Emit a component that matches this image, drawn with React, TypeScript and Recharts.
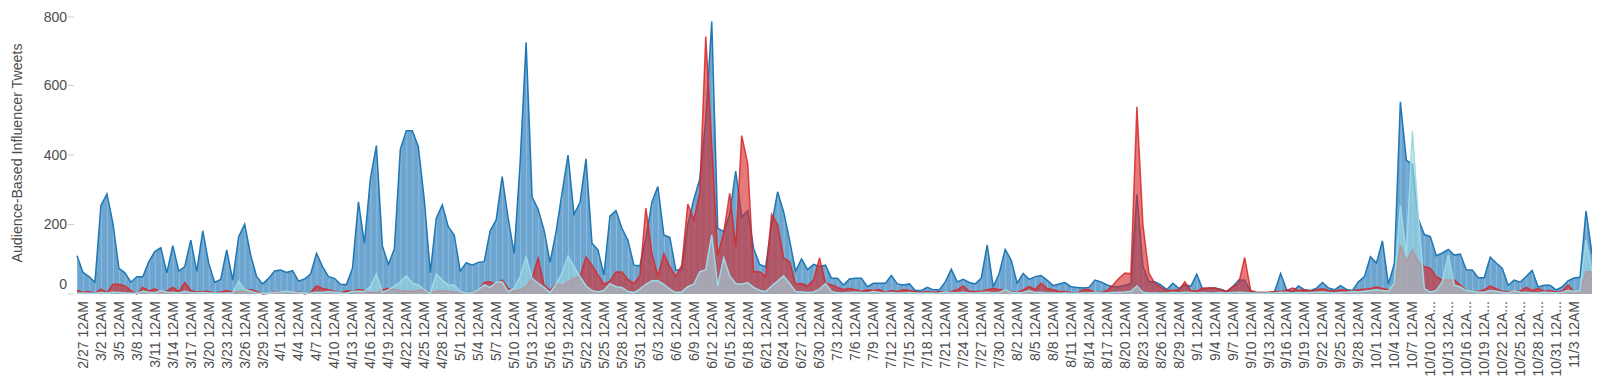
import { AreaChart, Area, XAxis, YAxis } from "recharts";

/* ================= DATA ================= */

// one point per day, first point 2/26 12AM
const FIRST_MONTH = 2;
const FIRST_DAY = 26;
const MONTH_LENGTHS = [31, 28, 31, 30, 31, 30, 31, 31, 30, 31, 30, 31];

const yTicks = [0, 200, 400, 600, 800];

const blueTweets = [
  110, 62, 50, 34, 255, 288, 203, 74, 61, 34,
  50, 50, 93, 122, 133, 61, 139, 66, 79, 155,
  65, 182, 88, 33, 42, 127, 40, 165, 201, 112,
  50, 29, 45, 66, 69, 62, 67, 37, 43, 57,
  117, 79, 50, 45, 28, 27, 74, 265, 146, 333,
  427, 138, 85, 130, 417, 470, 470, 424, 271, 61,
  218, 256, 194, 170, 66, 90, 83, 91, 93, 182,
  213, 338, 218, 117, 376, 724, 280, 244, 184, 91,
  179, 290, 400, 229, 263, 389, 146, 127, 55, 224,
  240, 189, 155, 83, 81, 160, 264, 309, 170, 163,
  69, 70, 200, 272, 330, 500, 784, 189, 180, 230,
  354, 222, 240, 131, 85, 78, 200, 294, 237, 155,
  66, 101, 70, 85, 79, 83, 45, 45, 26, 43,
  45, 45, 21, 31, 31, 31, 53, 29, 26, 29,
  10, 10, 19, 12, 12, 35, 71, 35, 42, 33,
  29, 45, 141, 21, 59, 128, 98, 31, 59, 42,
  50, 53, 40, 24, 29, 33, 21, 19, 17, 19,
  40, 35, 26, 21, 21, 25, 30, 287, 80, 35,
  35, 26, 13, 31, 16, 26, 22, 57, 12, 17,
  17, 14, 7, 21, 40, 40, 7, 4, 4, 4,
  7, 59, 12, 7, 23, 12, 10, 17, 33, 17,
  12, 24, 13, 10, 35, 50, 107, 89, 153, 28,
  88, 553, 385, 373, 215, 171, 165, 110, 118, 128,
  112, 115, 70, 69, 47, 47, 106, 89, 74, 25,
  40, 34, 50, 68, 20, 25, 25, 12, 20, 38,
  46, 48, 239, 115,
];

const redTweets = [
  10, 5, 7, 2, 14, 4, 28, 28, 23, 10,
  0, 19, 9, 15, 4, 9, 19, 7, 33, 10,
  5, 7, 7, 2, 6, 10, 5, 7, 9, 13,
  7, 0, 2, 7, 4, 7, 4, 7, 0, 4,
  23, 16, 12, 7, 2, 9, 7, 13, 10, 4,
  4, 12, 16, 13, 10, 8, 8, 10, 12, 5,
  8, 10, 8, 6, 4, 3, 5, 10, 33, 35,
  28, 40, 16, 8, 12, 20, 45, 103, 26, 10,
  30, 25, 35, 45, 50, 107, 83, 55, 28, 37,
  63, 63, 42, 30, 52, 247, 117, 52, 116, 78,
  50, 83, 259, 213, 290, 741, 430, 112, 175, 290,
  136, 456, 376, 64, 64, 50, 229, 200, 104, 93,
  29, 30, 23, 40, 104, 31, 26, 19, 13, 16,
  12, 7, 12, 10, 13, 4, 10, 7, 12, 10,
  7, 4, 7, 4, 7, 4, 7, 12, 23, 7,
  7, 7, 12, 16, 13, 10, 7, 4, 12, 21,
  13, 31, 16, 12, 7, 7, 4, 2, 12, 13,
  4, 4, 10, 26, 45, 60, 58, 539, 200, 60,
  30, 20, 10, 10, 12, 35, 10, 8, 17, 17,
  17, 12, 7, 21, 30, 105, 10, 5, 4, 5,
  7, 8, 10, 17, 10, 12, 8, 12, 15, 10,
  8, 12, 10, 8, 12, 14, 16, 20, 16, 12,
  20, 141, 93, 127, 93, 79, 74, 50, 40, 40,
  40, 26, 10, 8, 7, 12, 23, 15, 8, 6,
  10, 8, 19, 10, 16, 8, 10, 5, 8, 26,
  8, 10, 64, 64,
];

const tealTweets = [
  3, 3, 2, 2, 4, 3, 5, 4, 3, 2,
  2, 8, 5, 3, 10, 5, 4, 3, 8, 4,
  3, 4, 3, 2, 2, 3, 3, 37, 13, 8,
  3, 2, 3, 5, 6, 8, 6, 4, 2, 3,
  5, 4, 7, 5, 3, 2, 7, 8, 7, 21,
  58, 5, 12, 23, 35, 52, 31, 26, 13, 2,
  58, 40, 26, 26, 7, 2, 4, 12, 26, 19,
  33, 35, 7, 16, 50, 107, 45, 31, 19, 4,
  29, 60, 109, 79, 50, 23, 10, 6, 10, 30,
  21, 19, 7, 4, 14, 28, 38, 38, 28, 14,
  4, 6, 21, 28, 64, 70, 170, 23, 104, 52,
  30, 28, 33, 19, 10, 7, 23, 37, 52, 30,
  7, 6, 4, 6, 14, 30, 7, 3, 3, 4,
  5, 4, 3, 7, 4, 3, 4, 3, 3, 4,
  3, 2, 3, 2, 3, 5, 4, 3, 5, 3,
  3, 4, 5, 3, 4, 12, 5, 3, 4, 10,
  4, 5, 3, 3, 2, 3, 2, 2, 3, 3,
  4, 3, 3, 4, 5, 6, 8, 23, 5, 3,
  3, 2, 3, 4, 3, 5, 4, 3, 4, 3,
  3, 4, 3, 4, 5, 4, 3, 3, 2, 3,
  3, 5, 4, 3, 4, 3, 4, 5, 6, 4,
  3, 4, 5, 7, 6, 8, 10, 12, 10, 8,
  30, 255, 110, 468, 220, 15, 5, 10, 35, 112,
  25, 20, 10, 8, 5, 5, 10, 8, 5, 3,
  10, 5, 4, 3, 3, 5, 4, 3, 5, 10,
  8, 10, 155, 64,
];

/* ================= BUILD ================= */

const buildDates = (count: number) => {
  const out: string[] = [];
  let m = FIRST_MONTH;
  let d = FIRST_DAY;
  for (let i = 0; i < count; i++) {
    out.push(`${m}/${d} 12AM`);
    d++;
    if (d > MONTH_LENGTHS[m - 1]) {
      d = 1;
      m++;
    }
  }
  return out;
};

const dates = buildDates(blueTweets.length);

const data = dates.map((date, i) => ({
  date,
  blue: blueTweets[i],
  red: redTweets[i],
  teal: tealTweets[i],
}));

const FONT = "'Liberation Sans', Arial, Helvetica, sans-serif";
const TEXT = "#4d4d4d";

const CHART_W = 1592;
const CHART_H = 372;
const PLOT_LEFT = 69;
const PLOT_RIGHT_PAD = 8;
// spacing between two daily points, used only for the stripe texture
const STEP = (CHART_W - PLOT_LEFT - PLOT_RIGHT_PAD) / (blueTweets.length - 1);

/* ================= TICKS ================= */

const shortLabel = (s: string) => (s.length > 9 ? s.slice(0, 9) + "..." : s);

function DateTick(props: any) {
  const { x, y, payload, index } = props;
  if (index % 3 !== 1 || index > data.length - 3) return null;
  const ty = y + 7;
  return (
    <text
      x={x}
      y={ty}
      dy="0.35em"
      transform={`rotate(-90, ${x}, ${ty})`}
      textAnchor="end"
      fontSize={14}
      fontFamily={FONT}
      fill={TEXT}
    >
      {shortLabel(String(payload.value))}
    </text>
  );
}

function CountTick(props: any) {
  const { x, y, payload } = props;
  const shift = payload.value === 0 ? -10 : 0;
  return (
    <g>
      <line x1={x - 9} x2={x - 3} y1={y} y2={y} stroke="#cccccc" />
      <text
        x={x - 10}
        y={y + shift}
        dy="0.35em"
        textAnchor="end"
        fontSize={14}
        fontFamily={FONT}
        fill={TEXT}
      >
        {payload.value}
      </text>
    </g>
  );
}

/* ================= CHART ================= */

export default function App() {
  return (
    <div style={{ position: "relative", width: CHART_W, height: CHART_H }}>
      <AreaChart
        width={CHART_W}
        height={CHART_H}
        data={data}
        margin={{ top: 8, right: PLOT_RIGHT_PAD, bottom: 0, left: 0 }}
      >
        <defs>
          <pattern
            id="blueStripes"
            patternUnits="userSpaceOnUse"
            x={PLOT_LEFT}
            y={0}
            width={STEP}
            height={10}
          >
            <rect width={STEP} height={10} fill="#6ca5cf" />
            <rect width={1} height={10} fill="#8dbadb" />
          </pattern>
        </defs>
        <XAxis
          dataKey="date"
          interval={0}
          height={86}
          tickSize={0}
          tickMargin={0}
          axisLine={false}
          tickLine={false}
          tick={<DateTick />}
        />
        <YAxis
          width={PLOT_LEFT}
          domain={[0, 800]}
          ticks={yTicks}
          tickSize={0}
          tickMargin={0}
          axisLine={false}
          tickLine={false}
          tick={<CountTick />}
        />
        <Area
          type="linear"
          dataKey="blue"
          stroke="#1f77b4"
          strokeWidth={1.5}
          fill="url(#blueStripes)"
          fillOpacity={1}
          dot={false}
          isAnimationActive={false}
        />
        <Area
          type="linear"
          dataKey="red"
          stroke="#d62728"
          strokeOpacity={0.85}
          strokeWidth={1.5}
          fill="#d62728"
          fillOpacity={0.62}
          dot={false}
          isAnimationActive={false}
        />
        <Area
          type="linear"
          dataKey="teal"
          stroke="#9edae5"
          strokeWidth={1.5}
          fill="#9edae5"
          fillOpacity={0.6}
          dot={false}
          isAnimationActive={false}
        />
      </AreaChart>

      {/* y axis title */}
      <svg
        width={30}
        height={CHART_H}
        style={{ position: "absolute", left: 0, top: 0 }}
      >
        <text
          x={9}
          y={145}
          dy="0.35em"
          transform="rotate(-90, 9, 145)"
          textAnchor="middle"
          textLength={219}
          lengthAdjust="spacingAndGlyphs"
          fontSize={14}
          fontFamily={FONT}
          fill={TEXT}
        >
          Audience-Based Influencer Tweets
        </text>
      </svg>
    </div>
  );
}
